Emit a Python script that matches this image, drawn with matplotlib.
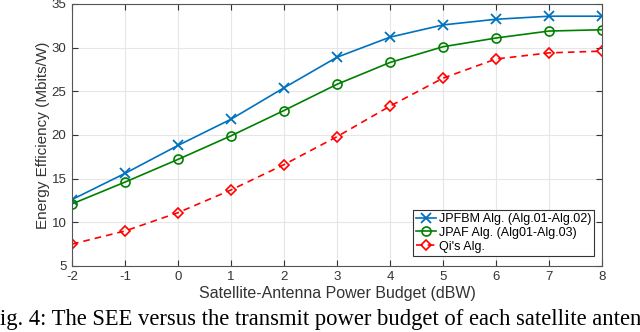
import matplotlib.pyplot as plt

plt.rcParams['font.family'] = ['Liberation Sans', 'DejaVu Sans']
plt.rcParams['axes.unicode_minus'] = False

power = [-2, -1, 0, 1, 2, 3, 4, 5, 6, 7, 8]
jpfbm = [12.6, 15.6, 18.8, 21.8, 25.4, 28.9, 31.2, 32.6, 33.25, 33.6, 33.6]
jpaf = [12.1, 14.6, 17.2, 19.9, 22.8, 25.8, 28.3, 30.1, 31.1, 31.9, 32.05]
qi = [7.5, 9.0, 11.1, 13.7, 16.6, 19.8, 23.3, 26.5, 28.7, 29.4, 29.6]
labels = ['JPFBM Alg. (Alg.01-Alg.02)', 'JPAF Alg. (Alg01-Alg.03)', "Qi's Alg."]
caption = 'ig. 4: The SEE versus the transmit power budget of each satellite anten'

fig = plt.figure(figsize=(6.4, 3.32), dpi=100)
ax = fig.add_axes([0.1125, 0.199, 0.828, 0.789])

ax.plot(power, jpfbm, color='#0072BD', marker='x', ms=7, mew=1.3, lw=1.2, label=labels[0])
ax.plot(power, jpaf, color='#008000', marker='o', ms=6.5, mfc='none', mew=1.2, lw=1.2, label=labels[1])
ax.plot(power, qi, color='#FF0000', marker='D', ms=5.5, mfc='none', mew=1.2, lw=1.2,
        ls=(0, (4, 3)), label=labels[2])

ax.set_xlim(-2, 8)
ax.set_ylim(5, 35)
ax.set_xticks(power)
ax.set_yticks([5, 10, 15, 20, 25, 30, 35])
ax.grid(True, color='#e6e6e6', lw=0.8)
ax.set_axisbelow(True)
for s in ax.spines.values():
    s.set_color('#555555')
    s.set_linewidth(0.8)
ax.tick_params(labelsize=9.5, colors='#333333', direction='in', length=4, top=True, right=True,
               labeltop=False, labelright=False, pad=4)
ax.set_xlabel('Satellite-Antenna Power Budget (dBW)', fontsize=11.5, color='#333333', labelpad=2)
ax.set_ylabel('Energy Efficiency (Mbits/W)', fontsize=11, color='#333333', labelpad=1)

leg = ax.legend(loc='lower right', fontsize=9, handlelength=1.6, handletextpad=0.2,
                borderpad=0.25, labelspacing=0.15, fancybox=False, framealpha=1,
                bbox_to_anchor=(0.997, 0.015))
leg.get_frame().set_edgecolor('#333333')
leg.get_frame().set_linewidth(0.8)

fig.text(0.0, 0.006, caption, fontsize=16.3, family='Liberation Serif', ha='left', va='bottom')

fig.savefig('out.png', dpi=100)
